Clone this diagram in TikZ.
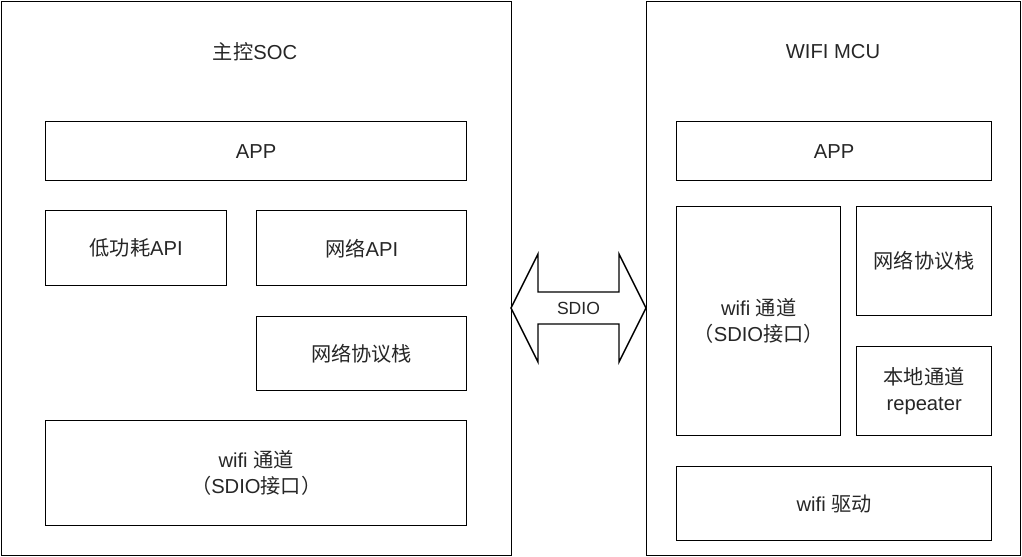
\documentclass[tikz,border=0pt]{standalone}
\usepackage{fontspec}
\setmainfont{Liberation Sans}
\newfontfamily\cjk{Noto Sans CJK SC}
\usetikzlibrary{positioning}

\begin{document}
\begin{tikzpicture}[
      x=0.02cm, y=-0.02cm,
      every node/.style={font=\fontsize{11.5}{15}\selectfont, text=black!85},
      blk/.style={draw, line width=0.8pt, anchor=north west, inner sep=0pt, align=center},
      chip/.style={blk, minimum height=11.08cm},
      pipe/.style={draw, line width=0.8pt, line join=miter, fill=white}
    ]
    \useasboundingbox (0,0) rectangle (1022,557);

    % main SoC
    \node[chip, minimum width=10.2cm] (soc) at (1,1) {};
    \node (soctitle) at (255,52) {{\cjk 主控}SOC};
    \node[blk, minimum width=8.42cm, minimum height=1.18cm] (lapp) at (45,121) {APP};
    \node[blk, minimum width=3.62cm, minimum height=1.5cm] (llp) at (45,210) {{\cjk 低功耗}API};
    \node[blk, minimum width=4.2cm, minimum height=1.5cm] (lnet) at (256,210) {{\cjk 网络}API};
    \node[blk, minimum width=4.2cm, minimum height=1.48cm] (lstack) at (256,316) {\cjk 网络协议栈};
    \node[blk, minimum width=8.42cm, minimum height=2.1cm] (lwifi) at (45,420)
      {wifi {\cjk 通道}\\{\cjk （}SDIO{\cjk 接口）}};

    % wifi MCU
    \node[chip, minimum width=7.48cm] (mcu) at (646,1) {};
    \node (mcutitle) at (833,52) {WIFI MCU};
    \node[blk, minimum width=6.3cm, minimum height=1.18cm] (rapp) at (676,121) {APP};
    \node[blk, minimum width=3.28cm, minimum height=4.58cm] (rwifi) at (676,206)
      {wifi {\cjk 通道}\\{\cjk （}SDIO{\cjk 接口）}};
    \node[blk, minimum width=2.7cm, minimum height=2.18cm] (rstack) at (856,206) {\cjk 网络协议栈};
    \node[blk, minimum width=2.7cm, minimum height=1.78cm] (rrep) at (856,346) {{\cjk 本地通道}\\repeater};
    \node[blk, minimum width=6.3cm, minimum height=1.48cm] (rdrv) at (676,466) {wifi {\cjk 驱动}};

    % SDIO link
    \draw[pipe] (511,308) -- (538,254) -- (538,292) -- (619,292) -- (619,254)
      -- (646,308) -- (619,362) -- (619,324) -- (538,324) -- (538,362) -- cycle;
    \node[font=\fontsize{10}{12}\selectfont] (sdio) at (578.5,308) {SDIO};

\end{tikzpicture}
\end{document}
